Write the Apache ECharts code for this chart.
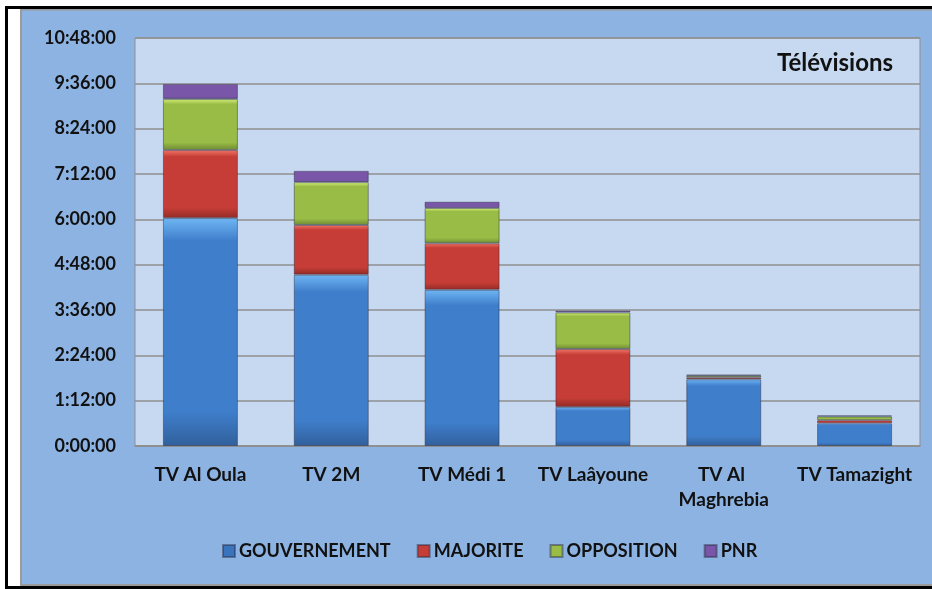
<!DOCTYPE html>
<html>
<head>
<meta charset="utf-8">
<script src="https://cdn.jsdelivr.net/npm/echarts@6/dist/echarts.min.js"></script>
<style>html,body{margin:0;padding:0;background:#fff}#c{width:932px;height:589px}</style>
</head>
<body>
<div id="c"></div>
<script>
// Durations in minutes
const categories = ['TV Al Oula', 'TV 2M', 'TV Médi 1', 'TV Laâyoune', 'TV Al Maghrebia', 'TV Tamazight'];
const seriesNames = ['GOUVERNEMENT', 'MAJORITE', 'OPPOSITION', 'PNR'];
const gouvernement = [362, 272, 248, 62, 106, 36];
const majorite = [108, 79, 74, 92, 3, 5];
const opposition = [81, 68, 56, 58, 3, 6];
const pnr = [24, 18, 10, 3, 1, 1.5];
const chartTitle = 'Télévisions';

const FONT = 'Lato';
function fmt(v) {
  const h = Math.floor(v / 60), m = Math.round(v % 60);
  return h + ':' + String(m).padStart(2, '0') + ':00';
}
function grad(hi, body, dark) {
  return new echarts.graphic.LinearGradient(0, 0, 0, 1, [
    {offset: 0, color: hi}, {offset: 0.1, color: body}, {offset: 0.85, color: body}, {offset: 1, color: dark}
  ]);
}
const styles = [
  {color: grad('#6fb6f3', '#3f7ecb', '#31609c'), legend: '#3a74bd'},
  {color: grad('#f27466', '#c53d36', '#932b26'), legend: '#c53d36'},
  {color: grad('#d9f27a', '#98bc46', '#6f8a33'), legend: '#98bc46'},
  {color: grad('#b890e2', '#7a56a8', '#553a78'), legend: '#7a56a8'}
];
const dataSets = [gouvernement, majorite, opposition, pnr];

const chart = echarts.init(document.getElementById('c'), null, {renderer: 'canvas'});
chart.setOption({
  backgroundColor: '#8db3e2',
  animation: false,
  textStyle: {fontFamily: FONT},
  title: {
    text: chartTitle, right: 34, top: 46,
    textStyle: {fontFamily: FONT, fontWeight: 'bold', fontSize: 24, color: '#111'}
  },
  graphic: [
    {type: 'rect', shape: {x: 0, y: 0, width: 21, height: 589}, style: {fill: '#fff'}, silent: true},
    {type: 'rect', shape: {x: 0, y: 0, width: 932, height: 9}, style: {fill: '#fff'}, silent: true},
    {type: 'rect', shape: {x: 0, y: 586, width: 932, height: 3}, style: {fill: '#fff'}, silent: true},
    {type: 'rect', shape: {x: 20, y: 9, width: 2, height: 577}, style: {fill: '#9a9a9a'}, silent: true},
    {type: 'rect', shape: {x: 20, y: 9, width: 912, height: 1.5}, style: {fill: '#9a9a9a'}, silent: true},
    {type: 'rect', shape: {x: 20, y: 584, width: 912, height: 2}, style: {fill: '#9a9a9a'}, silent: true},
    {type: 'rect', shape: {x: 5, y: 6, width: 927, height: 3}, style: {fill: '#000'}, silent: true},
    {type: 'rect', shape: {x: 5, y: 6, width: 3, height: 583}, style: {fill: '#000'}, silent: true},
    {type: 'rect', shape: {x: 5, y: 586, width: 927, height: 3}, style: {fill: '#000'}, silent: true}
  ],
  legend: {
    data: seriesNames.map((n, i) => ({name: n, itemStyle: {color: styles[i].legend}})),
    left: 217, top: 537,
    itemWidth: 12, itemHeight: 12, itemGap: 26,
    icon: 'rect',
    textStyle: {fontFamily: FONT, fontWeight: 'bold', fontSize: 18, color: '#111', padding: [0, 0, 0, -1]}
  },
  grid: {
    left: 135, right: 12, top: 38, bottom: 143,
    show: true, backgroundColor: '#c6d9f1', borderColor: '#8f8f8f', borderWidth: 1
  },
  xAxis: {
    type: 'category', data: categories,
    axisLine: {lineStyle: {color: '#8f8f8f', width: 1.5}},
    axisTick: {show: false},
    axisLabel: {
      fontFamily: FONT, fontWeight: 'bold', fontSize: 19, color: '#111',
      margin: 16, lineHeight: 25, width: 128, overflow: 'break', interval: 0
    }
  },
  yAxis: {
    type: 'value', min: 0, max: 648, interval: 72,
    axisLine: {show: false}, axisTick: {show: false},
    splitLine: {lineStyle: {color: '#8f8f8f', width: 1.5}},
    axisLabel: {
      fontFamily: FONT, fontWeight: 'bold', fontSize: 18, color: '#111', margin: 19,
      formatter: fmt
    }
  },
  series: seriesNames.map((n, i) => ({
    name: n, type: 'bar', stack: 'total', data: dataSets[i],
    barWidth: 75,
    itemStyle: {color: styles[i].color, borderColor: 'rgba(40,40,60,0.45)', borderWidth: 1}
  }))
});
</script>
</body>
</html>
